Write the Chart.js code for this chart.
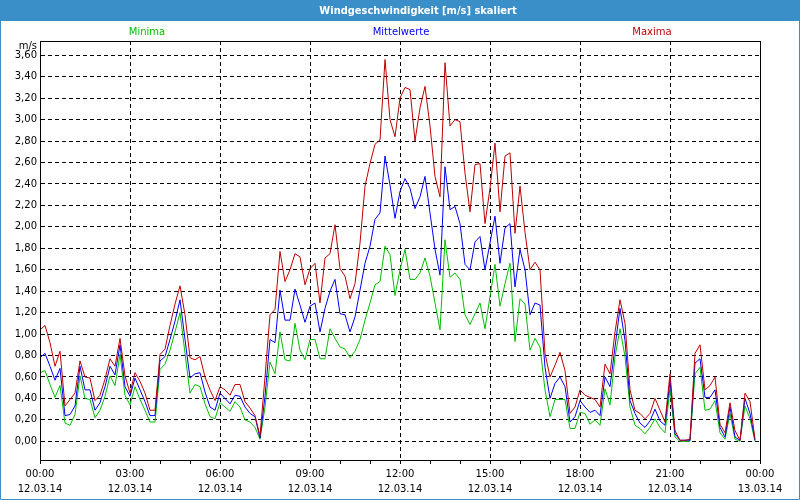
<!DOCTYPE html>
<html><head><meta charset="utf-8">
<script src="https://cdn.jsdelivr.net/npm/chart.js@4.4.1/dist/chart.umd.min.js"></script>
<style>html,body{margin:0;padding:0;background:#fff;}#wrap{width:800px;height:500px;}</style>
</head><body><div id="wrap"><canvas id="c" width="800" height="500"></canvas></div>
<script>
const chartTitle = 'Windgeschwindigkeit [m/s] skaliert';
const unitLabel = 'm/s';
const seriesNames = ['Minima', 'Mittelwerte', 'Maxima'];
const stepMinutes = 10;

const maxima = [1.04,1.08,0.92,0.70,0.84,0.33,0.39,0.45,0.75,0.60,0.59,0.38,0.43,0.58,0.77,0.70,0.96,0.61,0.45,0.64,
0.56,0.45,0.29,0.29,0.81,0.86,1.08,1.28,1.45,1.18,0.78,0.76,0.79,0.60,0.48,0.38,0.51,0.48,0.43,0.53,
0.53,0.37,0.31,0.24,0.05,0.60,1.18,1.23,1.77,1.49,1.60,1.75,1.72,1.46,1.61,1.66,1.29,1.71,1.75,2.02,
1.61,1.54,1.33,1.47,1.85,2.38,2.59,2.77,2.81,3.56,3.00,2.84,3.20,3.30,3.28,2.80,3.11,3.31,2.94,2.47,
2.28,3.53,2.94,3.00,2.98,2.50,2.14,2.58,2.59,2.03,2.36,2.78,2.14,2.66,2.69,1.94,2.38,1.95,1.60,1.67,
1.60,0.82,0.60,0.71,0.83,0.66,0.26,0.32,0.48,0.43,0.41,0.39,0.32,0.72,0.63,1.02,1.32,1.10,0.48,0.29,
0.26,0.21,0.26,0.40,0.29,0.18,0.63,0.10,0.01,0.01,0.02,0.82,0.90,0.48,0.52,0.60,0.16,0.08,0.36,0.10,
0.01,0.45,0.37,0.02];

const mittelwerte = [0.78,0.82,0.70,0.57,0.68,0.24,0.25,0.33,0.70,0.48,0.48,0.29,0.36,0.51,0.70,0.62,0.90,0.51,0.42,0.59,
0.48,0.37,0.24,0.24,0.75,0.79,0.95,1.12,1.32,0.95,0.59,0.63,0.64,0.46,0.32,0.29,0.45,0.40,0.35,0.43,
0.42,0.32,0.26,0.23,0.03,0.42,0.95,0.92,1.41,1.13,1.13,1.42,1.27,1.11,1.26,1.29,1.02,1.24,1.40,1.51,
1.19,1.18,1.02,1.16,1.41,1.66,1.82,2.07,2.13,2.66,2.39,2.08,2.33,2.45,2.36,2.17,2.28,2.47,2.13,1.79,
1.55,2.56,2.16,2.19,2.03,1.65,1.60,1.86,1.91,1.60,1.85,2.10,1.66,1.99,2.03,1.44,1.79,1.60,1.18,1.29,
1.27,0.69,0.40,0.54,0.60,0.51,0.18,0.23,0.38,0.32,0.27,0.29,0.24,0.60,0.51,0.88,1.24,0.94,0.38,0.26,
0.17,0.13,0.19,0.30,0.19,0.15,0.57,0.07,0.01,0.01,0.01,0.73,0.77,0.41,0.41,0.48,0.13,0.04,0.32,0.04,
0.01,0.40,0.26,0.01];

const minima = [0.64,0.66,0.53,0.41,0.52,0.17,0.15,0.25,0.61,0.40,0.39,0.22,0.29,0.42,0.61,0.52,0.81,0.43,0.34,0.51,
0.39,0.29,0.18,0.18,0.67,0.72,0.85,1.02,1.20,0.82,0.45,0.53,0.51,0.35,0.23,0.21,0.36,0.32,0.28,0.37,
0.32,0.20,0.18,0.13,0.02,0.32,0.74,0.63,1.02,0.76,0.75,1.10,0.85,0.76,0.95,0.95,0.77,0.77,1.05,0.96,
0.88,0.86,0.78,0.84,0.95,1.13,1.29,1.46,1.49,1.82,1.74,1.36,1.60,1.79,1.51,1.51,1.57,1.71,1.54,1.29,
1.04,1.88,1.53,1.57,1.51,1.18,1.09,1.19,1.29,1.05,1.35,1.65,1.26,1.47,1.66,0.93,1.33,1.28,0.85,0.96,
0.88,0.48,0.23,0.39,0.39,0.39,0.12,0.12,0.27,0.26,0.16,0.20,0.15,0.49,0.34,0.79,1.05,0.79,0.32,0.15,
0.12,0.07,0.13,0.21,0.13,0.08,0.49,0.04,0.00,0.00,0.00,0.63,0.69,0.29,0.30,0.38,0.08,0.02,0.26,0.02,
0.00,0.33,0.21,0.00];

const yTicks = [0,0.2,0.4,0.6,0.8,1.0,1.2,1.4,1.6,1.8,2.0,2.2,2.4,2.6,2.8,3.0,3.2,3.4,3.6];
const xTickTimes = ['00:00','03:00','06:00','09:00','12:00','15:00','18:00','21:00','00:00'];
const xTickDates = ['12.03.14','12.03.14','12.03.14','12.03.14','12.03.14','12.03.14','12.03.14','12.03.14','13.03.14'];

const colMin = '#00c000', colMid = '#0000ff', colMax = '#c00000';
const FONT = '"DejaVu Sans", Tahoma, sans-serif';
const TITLE_FONT = '"DejaVu Sans Condensed", "DejaVu Sans", Tahoma, sans-serif';

function pts(arr){ return arr.map((v,i)=>({x:i*stepMinutes, y:v})); }

const framePlugin = {
  id:'frame',
  beforeDraw(chart){
    const ctx = chart.ctx;
    ctx.save();
    ctx.fillStyle = '#ffffff';
    ctx.fillRect(0,0,800,500);
    ctx.fillStyle = '#3b8fc8';
    ctx.fillRect(0,0,800,21);
    ctx.fillStyle = '#ffffff';
    ctx.font = 'bold 11px ' + TITLE_FONT;
    ctx.textAlign = 'center';
    ctx.textBaseline = 'middle';
    ctx.fillText(chartTitle, 418, 11);
    ctx.font = '10px ' + FONT;
    ctx.fillStyle = colMin; ctx.fillText(seriesNames[0], 147, 32);
    ctx.fillStyle = colMid; ctx.fillText(seriesNames[1], 401, 32);
    ctx.fillStyle = colMax; ctx.fillText(seriesNames[2], 652, 32);
    ctx.restore();
  },
  afterDraw(chart){
    const ctx = chart.ctx, a = chart.chartArea;
    ctx.save();
    ctx.strokeStyle = '#000';
    ctx.lineWidth = 1;
    ctx.strokeRect(Math.round(a.left)+0.5, Math.round(a.top)+0.5, Math.round(a.right-a.left), Math.round(a.bottom-a.top));
    ctx.fillStyle = '#000';
    ctx.font = '10px ' + FONT;
    ctx.textAlign = 'right';
    ctx.textBaseline = 'middle';
    ctx.fillText(unitLabel, a.left-3, 46);
    ctx.strokeStyle = '#3b8fc8';
    ctx.beginPath();
    ctx.moveTo(0.5,21); ctx.lineTo(0.5,499.5); ctx.lineTo(799.5,499.5); ctx.lineTo(799.5,21);
    ctx.stroke();
    ctx.restore();
  }
};

new Chart(document.getElementById('c'), {
  type:'line',
  data:{
    datasets:[
      {label:seriesNames[2], data:pts(maxima), borderColor:colMax, borderWidth:1, pointRadius:0, tension:0, fill:false},
      {label:seriesNames[1], data:pts(mittelwerte), borderColor:colMid, borderWidth:1, pointRadius:0, tension:0, fill:false},
      {label:seriesNames[0], data:pts(minima), borderColor:colMin, borderWidth:1, pointRadius:0, tension:0, fill:false}
    ]
  },
  options:{
    responsive:false, animation:false, devicePixelRatio:1,
    layout:{padding:{top:41, right:40, left:0, bottom:0}},
    plugins:{legend:{display:false}, tooltip:{enabled:false}, title:{display:false}},
    scales:{
      x:{
        type:'linear', min:0, max:1440,
        afterFit(s){ s.height = 40; },
        afterBuildTicks(s){ const t=[]; for(let m=0;m<=1440;m+=60) t.push({value:m}); s.ticks=t; },
        ticks:{
          autoSkip:false, maxRotation:0, padding:3, color:'#000',
          font:{family:FONT, size:10, lineHeight:1.5},
          callback(v){ if(v%180!==0) return ''; const k=v/180; return [xTickTimes[k], xTickDates[k]]; }
        },
        grid:{
          color(c){ const v=c.tick && c.tick.value; return (v%180===0 && v>0 && v<1440)?'#000':'rgba(0,0,0,0)'; },
          tickColor:'#000', tickLength:4, lineWidth:1, tickBorderDash:[], drawTicks:true
        },
        border:{display:true, color:'#000', dash:[4,3]}
      },
      y:{
        min:-0.174, max:3.733,
        afterFit(s){ s.width = 40; },
        afterBuildTicks(s){ s.ticks = yTicks.map(v=>({value:v})); },
        ticks:{
          padding:3, color:'#000', font:{family:FONT, size:10},
          callback(v){ return v.toFixed(2).replace('.', ','); }
        },
        grid:{color:'#000', lineWidth:1, drawTicks:false},
        border:{display:true, color:'#000', dash:[4,3]}
      }
    }
  },
  plugins:[framePlugin]
});
</script>
</body></html>
